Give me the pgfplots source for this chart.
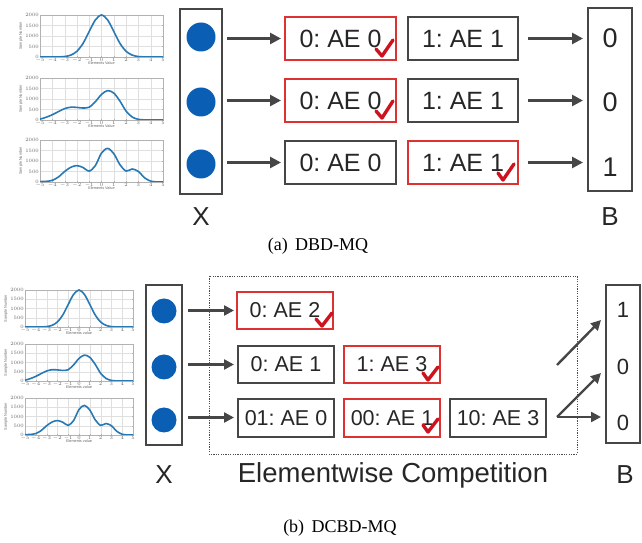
\documentclass[border=0pt]{standalone}
\usepackage{pgfplots}
\pgfplotsset{compat=1.18}
\usepackage{fontspec}
\setmainfont{Liberation Sans}
\newfontfamily\capfont{Liberation Serif}
\usetikzlibrary{arrows.meta}
\definecolor{curve}{RGB}{40,120,180}
\definecolor{redbox}{RGB}{220,50,50}
\definecolor{chk}{RGB}{205,20,30}
\definecolor{graybox}{RGB}{70,70,70}
\definecolor{ball}{RGB}{10,95,180}
\pgfplotsset{
  mini/.style={
    scale only axis, anchor=north west,
    xmin=-5, xmax=5, ymin=0, ymax=2000,
    xtick={-5,-4,...,5}, ytick={0,500,1000,1500,2000},
    grid=major, grid style={gray!25, line width=0.2pt},
    axis line style={gray!60, line width=0.3pt},
    major tick length=0.8pt, tick style={gray!60},
    ticklabel style={font=\fontsize{3.4}{4}\selectfont, text=gray!80!black, inner sep=0.5pt},
    xticklabel style={yshift=-0.4pt},
    yticklabel style={xshift=-0.4pt},
    /pgf/number format/1000 sep={},
    label style={font=\fontsize{3.8}{4.5}\selectfont, text=gray!80!black, inner sep=0.5pt},
    xlabel style={yshift=1.5pt},
    ylabel style={yshift=1.5pt},
    ylabel={Sample Number},
    scaled y ticks=false,
  },
  curv/.style={color=curve, line width=1.6pt, smooth, no marks},
}
\pgfplotstableread{
x y
-5 0
-4 1
-3.5 4
-3 22
-2.5 88
-2 271
-1.5 649
-1 1213
-0.5 1765
0 2000
0.5 1765
1 1213
1.5 649
2 271
2.5 88
3 22
3.5 4
4 1
5 0
}\curveA
\pgfplotstableread{
x y
-5 40
-4.5 130
-4 250
-3.5 400
-3 540
-2.5 610
-2 600
-1.5 570
-1 610
-0.5 870
0 1220
0.5 1400
1 1280
1.5 900
2 420
2.5 140
3 30
3.5 6
4 0
5 0
}\curveB
\pgfplotstableread{
x y
-5 20
-4.5 30
-4 80
-3.5 240
-3 500
-2.5 700
-2 780
-1.5 690
-1 520
-0.5 780
0 1380
0.5 1600
1 1350
1.5 820
2 520
2.5 620
3 500
3.5 200
4 40
4.5 5
5 0
}\curveC
\newcommand{\chk}[6]{\draw[chk, line width=3.4pt, line cap=round, line join=round] (#1pt,#2pt) -- (#3pt,#4pt) -- (#5pt,#6pt);}
\newcommand{\boxfont}{\fontsize{25}{30}\selectfont}
\newcommand{\smallboxfont}{\fontsize{21.5}{26}\selectfont}
\frenchspacing
\begin{document}
\begin{tikzpicture}[x=1pt,y=1pt]
\path[use as bounding box] (0pt,0pt) rectangle (642pt,543pt);
% ---------- top panel small plots
\begin{axis}[mini, at={(40pt,528pt)}, width=123pt, height=42pt, xlabel={Elements Value}]
\addplot[curv] table {\curveA};
\end{axis}
\begin{axis}[mini, at={(40pt,465pt)}, width=123pt, height=42pt, xlabel={Elements Value}]
\addplot[curv] table {\curveB};
\end{axis}
\begin{axis}[mini, at={(40pt,403pt)}, width=123pt, height=42pt, xlabel={Elements Value}]
\addplot[curv] table {\curveC};
\end{axis}
% ---------- bottom panel small plots
\begin{axis}[mini, at={(25pt,253pt)}, width=108pt, height=37pt, xlabel={Elements value}]
\addplot[curv] table {\curveA};
\end{axis}
\begin{axis}[mini, at={(25pt,199pt)}, width=108pt, height=37pt, xlabel={Elements value}]
\addplot[curv] table {\curveB};
\end{axis}
\begin{axis}[mini, at={(25pt,145pt)}, width=108pt, height=37pt, xlabel={Elements value}]
\addplot[curv] table {\curveC};
\end{axis}
% ---------- top panel diagram
\draw[graybox, line width=2.5pt] (180,534) rectangle (222,349);
\foreach \yy in {506,441,379} \fill[ball] (201,\yy) circle (14.5);
\node[font=\fontsize{26}{30}\selectfont, text=black!85] at (201,326) {X};
\foreach \yy in {504.5,442.5,380.5} {
  \draw[graybox, line width=2.6pt, -{Triangle[length=11pt,width=11pt]}] (227,\yy) -- (281,\yy);
  \draw[graybox, line width=2.6pt, -{Triangle[length=11pt,width=11pt]}] (528,\yy) -- (583,\yy);
}
\draw[redbox, line width=1.5pt] (285,526) rectangle (396,483);
\node[font=\boxfont, text=black!85] at (340.5,504.5) {0: AE 0};
\draw[graybox, line width=1.5pt] (408,526) rectangle (518,483);
\node[font=\boxfont, text=black!85] at (463,504.5) {1: AE 1};
\draw[redbox, line width=1.5pt] (285,464) rectangle (396,421);
\node[font=\boxfont, text=black!85] at (340.5,442.5) {0: AE 0};
\draw[graybox, line width=1.5pt] (408,464) rectangle (518,421);
\node[font=\boxfont, text=black!85] at (463,442.5) {1: AE 1};
\draw[graybox, line width=1.5pt] (285,402) rectangle (396,359);
\node[font=\boxfont, text=black!85] at (340.5,380.5) {0: AE 0};
\draw[redbox, line width=1.5pt] (408,402) rectangle (518,359);
\node[font=\boxfont, text=black!85] at (463,380.5) {1: AE 1};
\chk{376}{494}{382}{487}{393}{503}
\chk{376}{432}{382}{425}{393}{442}
\chk{498}{370}{503}{363}{514}{379}
\draw[graybox, line width=2.5pt] (588,535) rectangle (632,352);
\node[font=\fontsize{27}{30}\selectfont, text=black!85] at (610,505) {0};
\node[font=\fontsize{27}{30}\selectfont, text=black!85] at (610,441) {0};
\node[font=\fontsize{27}{30}\selectfont, text=black!85] at (610,376) {1};
\node[font=\fontsize{26}{30}\selectfont, text=black!85] at (610,326) {B};
\node[font=\capfont\fontsize{18}{20}\selectfont] at (318,297) {(a)\, DBD-MQ};
% ---------- bottom panel diagram
\draw[graybox, line width=2.3pt] (146,258) rectangle (182,98);
\foreach \yy in {232,176,123} \fill[ball] (164,\yy) circle (12.5);
\node[font=\fontsize{26}{30}\selectfont, text=black!85] at (164,68) {X};
\draw[black!70, line width=0.9pt, dash pattern=on 1.2pt off 1.2pt] (209,267) rectangle (577,89);
\foreach \yy in {232.5,178.5,125.5} {
  \draw[graybox, line width=2.4pt, -{Triangle[length=10pt,width=10pt]}] (188,\yy) -- (234,\yy);
}
\draw[redbox, line width=1.4pt] (237,251) rectangle (333,214);
\node[font=\smallboxfont, text=black!85] at (285,232.5) {0: AE 2};
\draw[graybox, line width=1.4pt] (238,197) rectangle (334,160);
\node[font=\smallboxfont, text=black!85] at (286,178.5) {0: AE 1};
\draw[redbox, line width=1.4pt] (344,197) rectangle (440,160);
\node[font=\smallboxfont, text=black!85] at (392,178.5) {1: AE 3};
\draw[graybox, line width=1.4pt] (238,144) rectangle (334,106);
\node[font=\smallboxfont, text=black!85] at (286,125) {01: AE 0};
\draw[redbox, line width=1.4pt] (344,144) rectangle (440,106);
\node[font=\smallboxfont, text=black!85] at (392,125) {00: AE 1};
\draw[graybox, line width=1.4pt] (450,144) rectangle (546,106);
\node[font=\smallboxfont, text=black!85] at (498,125) {10: AE 3};
\chk{316}{224}{322}{217}{332}{230}
\chk{423}{170}{428}{163}{438}{176}
\chk{423}{118}{428}{111}{438}{124}
\node[font=\fontsize{27.5}{30}\selectfont, text=black!85] at (393,68) {Elementwise Competition};
\draw[graybox, line width=2.3pt] (606,258) rectangle (640,100);
\node[font=\fontsize{22}{26}\selectfont, text=black!85] at (623,233) {1};
\node[font=\fontsize{22}{26}\selectfont, text=black!85] at (623,176) {0};
\node[font=\fontsize{22}{26}\selectfont, text=black!85] at (623,120) {0};
\node[font=\fontsize{26}{30}\selectfont, text=black!85] at (625,68) {B};
\draw[graybox, line width=2.4pt, -{Triangle[length=10pt,width=10pt]}] (557,178) -- (601,223);
\draw[graybox, line width=2.4pt, -{Triangle[length=10pt,width=10pt]}] (557,126) -- (601,170);
\draw[graybox, line width=2.4pt, -{Triangle[length=10pt,width=10pt]}] (557,126) -- (601,126);
\node[font=\capfont\fontsize{18}{20}\selectfont] at (340,15) {(b)\, DCBD-MQ};
\end{tikzpicture}
\end{document}
